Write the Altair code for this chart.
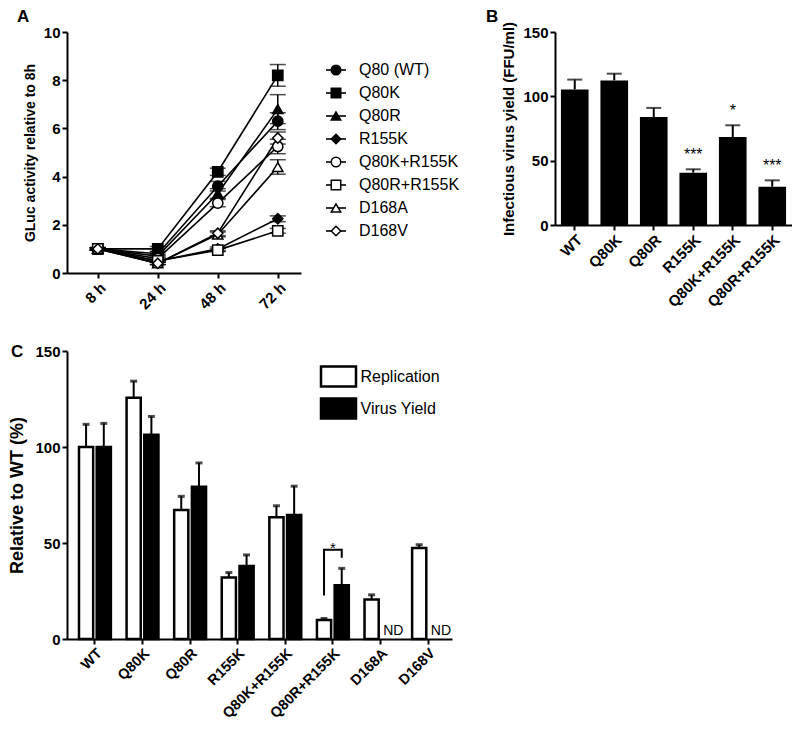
import altair as alt
import pandas as pd

FONT = "Liberation Sans"

# ---------------- Panel A data ----------------
times = ["8 h", "24 h", "48 h", "72 h"]
series = ["Q80 (WT)", "Q80K", "Q80R", "R155K", "Q80K+R155K", "Q80R+R155K", "D168A", "D168V"]
shapes = ["circle", "square", "triangle-up", "diamond", "circle", "square", "triangle-up", "diamond"]
fills = ["black", "black", "black", "black", "white", "white", "white", "white"]

a_wt = [1.0, 0.8, 3.6, 6.3]
a_q80k = [1.0, 1.0, 4.2, 8.2]
a_q80r = [1.0, 0.7, 3.3, 6.8]
a_r155k = [1.0, 0.5, 1.0, 2.25]
a_q80k_r155k = [1.0, 0.6, 2.9, 5.25]
a_q80r_r155k = [1.0, 0.5, 0.95, 1.75]
a_d168a = [1.0, 0.4, 1.6, 4.4]
a_d168v = [1.0, 0.4, 1.65, 5.6]

e_wt = [0.05, 0.08, 0.2, 0.35]
e_q80k = [0.05, 0.1, 0.15, 0.45]
e_q80r = [0.05, 0.08, 0.2, 0.6]
e_r155k = [0.05, 0.05, 0.08, 0.12]
e_q80k_r155k = [0.05, 0.06, 0.15, 0.3]
e_q80r_r155k = [0.05, 0.05, 0.06, 0.1]
e_d168a = [0.05, 0.05, 0.1, 0.3]
e_d168v = [0.05, 0.05, 0.1, 0.25]

# ---------------- Panel B data ----------------
b_cats = ["WT", "Q80K", "Q80R", "R155K", "Q80K+R155K", "Q80R+R155K"]
b_vals = [105.4, 112.4, 84.0, 40.7, 68.4, 29.8]
b_err = [7.6, 5.2, 7.0, 2.6, 9.1, 4.9]
b_stars = ["", "", "", "***", "*", "***"]

# ---------------- Panel C data ----------------
c_cats = ["WT", "Q80K", "Q80R", "R155K", "Q80K+R155K", "Q80R+R155K", "D168A", "D168V"]
c_groups = ["Replication", "Virus Yield"]
c_rep = [100.0, 125.6, 67.2, 32.0, 63.4, 9.9, 20.6, 47.4]
c_rep_err = [11.8, 8.7, 7.1, 2.6, 6.0, 0.8, 2.4, 1.7]
c_vy = [100.0, 106.4, 79.3, 38.0, 64.6, 28.0, None, None]
c_vy_err = [12.3, 9.5, 12.4, 5.8, 15.0, 8.8, None, None]
c_nd = ["D168A", "D168V"]
c_bracket_cat = "Q80R+R155K"
c_bracket_grp = ["Replication", "Replication", "Virus Yield", "Virus Yield"]
c_bracket_val = [22.7, 46.5, 46.5, 42.3]

# ---------------- tables ----------------
a_vals = [a_wt, a_q80k, a_q80r, a_r155k, a_q80k_r155k, a_q80r_r155k, a_d168a, a_d168v]
a_errs = [e_wt, e_q80k, e_q80r, e_r155k, e_q80k_r155k, e_q80r_r155k, e_d168a, e_d168v]
rows = []
for s, vs, es in zip(series, a_vals, a_errs):
    for t, v, e in zip(times, vs, es):
        rows.append({"series": s, "time": t, "value": v, "lo": v - e, "hi": v + e})
dfa = pd.DataFrame(rows)
dfa_leg = pd.DataFrame({"series": series})

dfb = pd.DataFrame({"cat": b_cats, "val": b_vals,
                    "hi": [v + e for v, e in zip(b_vals, b_err)], "star": b_stars})

crow = []
for c, r, re_, v, ve in zip(c_cats, c_rep, c_rep_err, c_vy, c_vy_err):
    crow.append({"cat": c, "grp": "Replication", "val": r, "hi": r + re_})
    if v is not None:
        crow.append({"cat": c, "grp": "Virus Yield", "val": v, "hi": v + ve})
dfc = pd.DataFrame(crow)
dfc_nd = pd.DataFrame({"cat": c_nd, "grp": ["Virus Yield"] * len(c_nd), "txt": ["ND"] * len(c_nd)})
dfc_br = pd.DataFrame({"cat": [c_bracket_cat] * 4, "grp": c_bracket_grp, "val": c_bracket_val,
                       "o": list(range(4))})
dfc_star = pd.DataFrame({"cat": [c_bracket_cat], "val": [max(c_bracket_val)], "txt": ["*"]})

# ---------------- Panel A ----------------
xa = alt.X("time:N", scale=alt.Scale(type="point", domain=times, padding=0.45, align=0.57),
           axis=alt.Axis(title=None, labelAngle=-45))
ya = alt.Y("value:Q", scale=alt.Scale(domain=[0, 10], nice=False),
           axis=alt.Axis(title="GLuc activity relative to 8h", values=[0, 2, 4, 6, 8, 10],
                         titleFontSize=14, titlePadding=6))
shape_enc = alt.Shape("series:N", scale=alt.Scale(domain=series, range=shapes), legend=None)
fill_enc = alt.Fill("series:N", scale=alt.Scale(domain=series, range=fills), legend=None)

base_a = alt.Chart(dfa)
lines_a = base_a.mark_line(color="black", strokeWidth=1.6).encode(x=xa, y=ya, detail="series:N")
err_a = base_a.mark_rule(color="black", strokeWidth=1.5).encode(x=xa, y="lo:Q", y2="hi:Q")
caphi_a = base_a.mark_tick(color="black", thickness=1.5, size=16).encode(x=xa, y="hi:Q")
caplo_a = base_a.mark_tick(color="black", thickness=1.5, size=16).encode(x=xa, y="lo:Q")
pts_a = base_a.mark_point(filled=True, opacity=1, stroke="black", strokeWidth=1.5, size=105).encode(
    x=xa, y=ya, shape=shape_enc, fill=fill_enc)
letter_a = alt.Chart(pd.DataFrame({"t": ["A"]})).mark_text(
    align="left", baseline="top", fontSize=17, fontWeight="bold", fill="black").encode(
    x=alt.value(-50), y=alt.value(-23), text="t:N")

main_a = alt.layer(lines_a, err_a, caphi_a, caplo_a, pts_a, letter_a)

yleg = alt.Y("series:N", scale=alt.Scale(type="point", domain=series, range=[38, 199], padding=0),
             axis=None)
leg_base = alt.Chart(dfa_leg)
leg_rule = leg_base.mark_rule(color="black", strokeWidth=1.6).encode(
    y=yleg, x=alt.value(259), x2=alt.value(279))
leg_pts = leg_base.mark_point(filled=True, opacity=1, stroke="black", strokeWidth=1.5, size=90).encode(
    y=yleg, x=alt.value(269), shape=shape_enc, fill=fill_enc)
leg_txt = leg_base.mark_text(align="left", baseline="middle", fontSize=16, fill="black").encode(
    y=yleg, x=alt.value(292), text="series:N")
leg_a = alt.layer(leg_rule, leg_pts, leg_txt)

chart_a = alt.layer(main_a, leg_a).resolve_scale(y="independent").properties(width=234, height=241)

# ---------------- Panel B ----------------
xb = alt.X("cat:N", scale=alt.Scale(domain=b_cats, paddingInner=0.3, paddingOuter=0.15),
           axis=alt.Axis(title=None, labelAngle=-45))
yb = alt.Y("val:Q", scale=alt.Scale(domain=[0, 150], nice=False),
           axis=alt.Axis(title="Infectious virus yield (FFU/ml)", values=[0, 50, 100, 150],
                         titleFontSize=15, titlePadding=6))
base_b = alt.Chart(dfb)
bars_b = base_b.mark_bar(color="black").encode(x=xb, y=yb)
err_b = base_b.mark_rule(color="black", strokeWidth=2).encode(x=xb, y="val:Q", y2="hi:Q")
cap_b = base_b.mark_tick(color="black", thickness=2, size=15).encode(x=xb, y="hi:Q")
star_b = base_b.mark_text(fontSize=16, baseline="alphabetic", dy=-9, fill="black").encode(
    x=xb, y="hi:Q", text="star:N")
letter_b = alt.Chart(pd.DataFrame({"t": ["B"]})).mark_text(
    align="left", baseline="top", fontSize=17, fontWeight="bold", fill="black").encode(
    x=alt.value(-69), y=alt.value(-23), text="t:N")
chart_b = alt.layer(bars_b, err_b, cap_b, star_b, letter_b).properties(width=237, height=193)

# ---------------- Panel C ----------------
xc = alt.X("cat:N", scale=alt.Scale(domain=c_cats, paddingInner=0.33, paddingOuter=0.21, align=0.6),
           axis=alt.Axis(title=None, labelAngle=-45, labelFontSize=14.5))
xoc = alt.XOffset("grp:N", scale=alt.Scale(domain=c_groups, paddingInner=0.2))
yc = alt.Y("val:Q", scale=alt.Scale(domain=[0, 150], nice=False),
           axis=alt.Axis(title="Relative to WT (%)", values=[0, 50, 100, 150],
                         titleFontSize=18, titlePadding=8))
fill_c = alt.Fill("grp:N", scale=alt.Scale(domain=c_groups, range=["white", "black"]),
                  legend=alt.Legend(title=None, orient="none", legendX=260, legendY=14,
                                    symbolType="M-1.75,-1L1.75,-1L1.75,1L-1.75,1Z", symbolSize=400,
                                    symbolStrokeColor="black", symbolStrokeWidth=2.5,
                                    labelFontSize=16, labelFont=FONT, labelColor="black",
                                    labelOffset=10.5, rowPadding=1, padding=0))
base_c = alt.Chart(dfc)
bars_c = base_c.mark_bar(stroke="black", strokeWidth=2.5).encode(x=xc, xOffset=xoc, y=yc, fill=fill_c)
err_c = base_c.mark_rule(color="black", strokeWidth=2).encode(x=xc, xOffset=xoc, y="val:Q", y2="hi:Q")
cap_c = base_c.mark_tick(color="black", thickness=3, size=7).encode(x=xc, xOffset=xoc, y="hi:Q")
br_c = alt.Chart(dfc_br).mark_line(color="black", strokeWidth=2).encode(
    x=xc, xOffset=xoc, y="val:Q", order="o:Q")
star_c = alt.Chart(dfc_star).mark_text(fontSize=15, baseline="alphabetic", dy=3, fill="black").encode(
    x=xc, y="val:Q", text="txt:N")
nd_c = alt.Chart(dfc_nd).mark_text(fontSize=14, baseline="bottom", dy=-1, dx=4, fill="black").encode(
    x=xc, xOffset=xoc, y=alt.datum(0), text="txt:N")
letter_c = alt.Chart(pd.DataFrame({"t": ["C"]})).mark_text(
    align="left", baseline="top", fontSize=17, fontWeight="bold", fill="black").encode(
    x=alt.value(-56), y=alt.value(-7), text="t:N")
chart_c = alt.layer(bars_c, err_c, cap_c, br_c, star_c, nd_c, letter_c).properties(width=385, height=288)

row1 = alt.hconcat(chart_a, chart_b, spacing=26)
chart = alt.vconcat(row1, chart_c, spacing=31).resolve_scale(
    fill="independent", shape="independent"
).resolve_legend(fill="independent", shape="independent").properties(
    padding={"left": 0, "top": 0, "right": 0, "bottom": 0}
).configure(
    font=FONT
).configure_view(stroke=None).configure_axis(
    domainColor="black", domainWidth=2, tickColor="black", tickWidth=2, tickSize=5,
    labelFont=FONT, labelFontWeight="bold", labelFontSize=15, labelColor="black", labelPadding=2,
    titleFont=FONT, titleFontWeight="bold", titleColor="black", grid=False
)

chart.save("out.html", embed_options={"renderer": "svg", "actions": False})
